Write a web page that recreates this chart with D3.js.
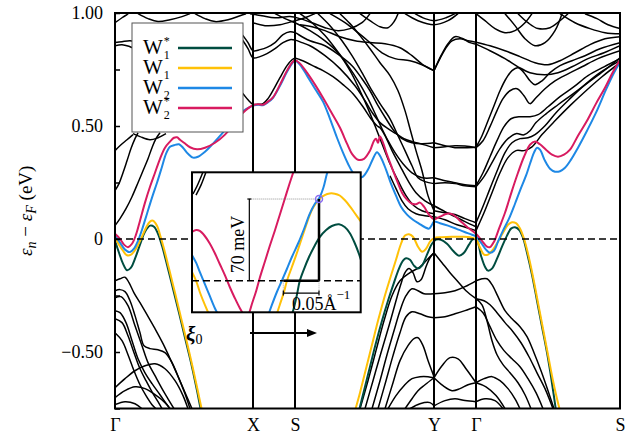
<!DOCTYPE html>
<html>
<head>
<meta charset="utf-8">
<script src="https://cdn.jsdelivr.net/npm/d3@7"></script>
<style>
  body { margin: 0; background: #fff; }
  svg text { font-family: "Liberation Serif", "DejaVu Serif", serif; fill: #000; }
</style>
</head>
<body>
<svg id="chart" width="637" height="437"></svg>
<script>
// k path: high-symmetry points (path coordinate, arb. units) and labels
var kTicks = [0, 27.6, 36, 63.8, 72.2, 101];
var kLabels = ["Γ", "X", "S", "Y", "Γ", "S"];
var eTicks = [-0.75, -0.5, -0.25, 0, 0.25, 0.5, 0.75, 1.0];

// highlighted bands, [k, E (eV)], one list per visible piece
var w1star = [
  [[0,-0.008],[0.8,-0.061],[1.6,-0.109],[2.4,-0.138],[3.2,-0.127],[4,-0.087],[5,-0.025],[6,0.032],[7,0.059],[7.8,0.054],[8.6,0.023],[9.4,-0.030],[10.4,-0.114],[11.6,-0.220],[12.8,-0.326],[14,-0.437],[15.2,-0.547],[16.2,-0.649],[17,-0.738],[17.2,-0.760]],
  [[48.8,-0.760],[49.8,-0.671],[51,-0.565],[52.2,-0.459],[53.4,-0.362],[54.6,-0.273],[55.8,-0.193],[56.8,-0.131],[57.6,-0.096],[58.2,-0.085],[59,-0.092],[59.8,-0.118],[60.6,-0.131],[61.4,-0.118],[62.4,-0.069],[63.4,-0.021],[64.2,-0.003],[65.2,-0.003],[66.4,-0.021],[67.6,-0.052],[68.8,-0.074],[69.8,-0.061],[70.8,-0.025],[71.6,-0.001],[72.4,-0.008],[73.2,-0.074],[74,-0.123],[74.6,-0.140],[75.4,-0.131],[76.4,-0.087],[77.4,-0.034],[78.4,0.015],[79.2,0.046],[80,0.052],[80.8,0.041],[81.6,0.006],[82.4,-0.061],[83.4,-0.158],[84.4,-0.273],[85.4,-0.388],[86.4,-0.503],[87.2,-0.609],[87.8,-0.698],[88.2,-0.760]]
];
var w1 = [
  [[0,0.006],[0.8,-0.025],[1.6,-0.052],[2.4,-0.072],[3.2,-0.069],[4.2,-0.043],[5.2,0.001],[6.2,0.050],[7,0.077],[7.6,0.081],[8.4,0.059],[9,0.019],[9.8,-0.043],[10.8,-0.131],[12,-0.238],[13.2,-0.348],[14.4,-0.459],[15.6,-0.574],[16.6,-0.676],[17.4,-0.760]],
  [[48,-0.760],[49,-0.680],[50.2,-0.574],[51.4,-0.468],[52.6,-0.362],[53.8,-0.264],[55,-0.176],[56.2,-0.092],[57.2,-0.021],[58,0.015],[58.8,0.021],[59.6,0.010],[60.6,-0.034],[61.4,-0.056],[62.2,-0.043],[63,-0.012],[63.8,0.004],[65.4,0.008],[67.4,0.010],[69.4,0.010],[71,0.008],[72.2,-0.001],[73,-0.038],[73.8,-0.069],[74.6,-0.069],[75.6,-0.047],[76.6,-0.012],[77.6,0.028],[78.6,0.063],[79.4,0.074],[80.2,0.070],[81,0.046],[81.8,0.001],[82.6,-0.065],[83.6,-0.167],[84.6,-0.282],[85.6,-0.397],[86.6,-0.512],[87.6,-0.627],[88.4,-0.707],[89,-0.760]]
];
var w2 = [
  [[0,0.015],[1,-0.016],[2,-0.047],[3,-0.058],[3.8,-0.043],[4.6,-0.008],[5.4,0.041],[6.4,0.112],[7.4,0.183],[8.4,0.249],[9.4,0.320],[10.2,0.377],[11,0.408],[11.8,0.415],[12.8,0.419],[13.6,0.404],[14.6,0.377],[15.6,0.360],[16.6,0.364],[18,0.386],[19.6,0.422],[21.4,0.466],[23.4,0.519],[25.2,0.559],[27.6,0.590],[28.6,0.594],[29.6,0.592],[30.6,0.605],[31.6,0.625],[33,0.678],[34.4,0.740],[35.4,0.776],[36,0.789],
   [37,0.771],[38.4,0.723],[40,0.665],[41.6,0.608],[43,0.532],[44.4,0.448],[45.6,0.382],[46.6,0.333],[47.6,0.293],[48.6,0.271],[49.6,0.276],[50.6,0.307],[51.6,0.355],[52.4,0.384],[53.2,0.360],[54.2,0.307],[55.2,0.245],[56.2,0.192],[57.2,0.143],[58.4,0.108],[59.6,0.085],[60.8,0.068],[62,0.052],[62.8,0.046],[63.4,0.063],[63.8,0.077],
   [65,0.070],[66.6,0.059],[68.2,0.046],[69.8,0.032],[71.4,0.019],[72.2,0.012],[73.2,-0.016],[74.2,-0.047],[75,-0.061],[75.8,-0.052],[76.6,-0.012],[77.6,0.037],[78.8,0.090],[80,0.156],[81,0.214],[82.2,0.280],[83,0.333],[83.8,0.382],[84.4,0.404],[85,0.395],[86,0.346],[87,0.311],[88,0.298],[89,0.300],[90,0.315],[91.2,0.351],[92.6,0.404],[94.4,0.479],[96.2,0.559],[98.2,0.661],[99.8,0.736],[101,0.782]]
];
var w2star = [
  [[0,0.023],[1,0.001],[1.8,-0.025],[2.6,-0.036],[3.4,-0.021],[4.2,0.019],[5,0.081],[6,0.161],[7,0.231],[8,0.293],[9,0.355],[10,0.404],[11,0.431],[11.8,0.448],[12.4,0.450],[13,0.439],[13.8,0.426],[15,0.406],[16.4,0.397],[18,0.404],[20,0.426],[22,0.462],[24,0.515],[25.6,0.559],[27.6,0.592],[28.6,0.596],[29.6,0.594],[30.6,0.608],[31.6,0.627],[33,0.683],[34.4,0.745],[35.4,0.780],[36,0.791],
   [37,0.776],[38.4,0.736],[40,0.683],[41.6,0.625],[43.2,0.563],[45,0.492],[46.4,0.422],[47.4,0.377],[48.6,0.351],[49.8,0.355],[51,0.391],[51.8,0.435],[52.2,0.444],[52.6,0.426],[53,0.453],[53.6,0.426],[54.4,0.373],[55.4,0.315],[56.4,0.258],[57.4,0.205],[58.4,0.174],[59.4,0.156],[60.2,0.154],[61,0.161],[61.8,0.143],[62.8,0.108],[63.8,0.088],
   [65,0.099],[66.4,0.112],[67.6,0.108],[69,0.081],[70.6,0.050],[72.2,0.023],[73.4,-0.008],[74.4,-0.034],[75,-0.036],[75.8,-0.012],[76.8,0.046],[78,0.116],[79.4,0.214],[80.6,0.293],[81.8,0.364],[83,0.417],[84,0.431],[85,0.419],[86.2,0.395],[87.4,0.373],[88.6,0.364],[89.8,0.373],[91,0.395],[92.6,0.457],[94.4,0.523],[96.2,0.599],[98,0.669],[99.4,0.731],[100.4,0.771],[101,0.791]]
];

// remaining bands (black)
var blackBands = [
  // upper part, Gamma - X - S
  [[0,0.869],[1.4,0.873],[3,0.877],[5,0.869]],
  [[0,0.855],[1.4,0.860],[3,0.851],[5,0.833]],
  [[0,0.957],[1.4,0.979],[2.6,0.997],[3,1.010]],
  [[4.6,0.997],[6.6,0.975],[8.6,0.962],[11,0.970],[13.4,0.984],[15,0.997]],
  [[16,0.997],[18,0.975],[20,0.962],[22.6,0.970],[25,0.988],[26.2,0.997]],
  [[0,0.059],[1,0.090],[2.2,0.134],[3.4,0.187],[4.6,0.249],[5.6,0.302],[6.6,0.355],[7.4,0.404],[8.2,0.444],[9,0.470]],
  [[0,0.214],[0.8,0.245],[1.6,0.293],[2.4,0.346],[3.2,0.400],[4,0.444],[4.6,0.470]],
  [[0,0.391],[1.2,0.417],[2.4,0.439],[3.6,0.462]],
  [[3.6,0.466],[5,0.453],[7,0.439],[8.6,0.448],[10.2,0.466]],
  [[24,0.944],[25.6,0.900],[26.6,0.869],[27.6,0.833],[29,0.838],[30.4,0.848],[32,0.869],[33.6,0.904],[35,0.917],[36,0.913],[37.4,0.895],[39,0.877],[42,0.855],[45,0.811],[47.4,0.767],[49.4,0.709],[51,0.656],[52.6,0.590],[54.2,0.532],[55.8,0.479],[57.4,0.444],[59.4,0.426],[61.4,0.422],[63.8,0.426]],
  [[24,0.922],[25.6,0.877],[26.6,0.842],[27.6,0.802],[29,0.807],[30.4,0.820],[32,0.842],[33.6,0.869],[35,0.882],[36,0.880],[37.4,0.869],[39,0.855],[42,0.811],[45,0.754],[48,0.678],[50,0.612],[51.6,0.554],[53,0.515],[54.6,0.488],[56.2,0.466],[57.8,0.444],[59.4,0.431],[61,0.422],[63.8,0.404]],
  [[23,0.700],[24.4,0.674],[25.6,0.643],[26.6,0.616],[27.6,0.596],[28.6,0.596],[29.6,0.599],[30.6,0.621],[31.8,0.665],[33,0.714],[34.4,0.767],[35.4,0.793],[36,0.800],[37,0.793],[38.4,0.780],[40,0.762],[41.6,0.745],[43.6,0.718],[45.6,0.683],[47.6,0.643],[49.6,0.585],[51.2,0.532],[52.4,0.501],[53,0.492],[54,0.457],[55.4,0.391],[57,0.324],[58.6,0.258],[60.2,0.205],[62,0.169],[63.8,0.147]],
  [[27.6,0.957],[30,0.944],[33,0.948],[36,0.966],[38,0.979],[40,0.997]],
  [[27,0.997],[29.4,0.988],[32,0.979],[35,0.984],[37,0.975],[39.4,0.957],[42,0.935],[44.6,0.922],[47,0.931],[49.4,0.957],[51,0.997]],
  // S - Y
  [[37,0.997],[39.4,0.957],[42,0.900],[44.4,0.833],[46.6,0.767],[48.6,0.700],[50.6,0.621],[52.2,0.546],[53.4,0.488],[54.6,0.435],[56,0.382],[57.6,0.333],[59.4,0.293],[61.4,0.271],[63.8,0.271]],
  [[40.6,0.997],[43,0.944],[45.4,0.877],[47.4,0.811],[49.4,0.736],[51.4,0.656],[53,0.599],[55,0.532],[56.6,0.457],[58,0.391],[59.4,0.324],[60.6,0.271],[62,0.254],[63.8,0.245]],
  [[45,0.997],[47,0.953],[49,0.900],[51,0.842],[53,0.780],[55,0.723],[56.6,0.656],[58,0.568],[59,0.488],[60.2,0.391],[61.4,0.302],[62.6,0.192],[63.8,0.125]],
  [[32,0.997],[34,0.975],[36,0.957],[39,0.922],[42,0.877],[44.6,0.824],[47,0.745],[49,0.656],[50.6,0.577],[52,0.501],[53.4,0.422],[55,0.333],[56.6,0.258],[58.2,0.192],[59.8,0.147],[61.4,0.125],[63.8,0.112]],
  [[37,0.948],[39.4,0.939],[42,0.922],[45,0.895],[48,0.877],[51,0.869],[54,0.864],[57,0.846],[59.4,0.811],[61.6,0.771],[63.8,0.745]],
  [[43,0.997],[46,0.957],[48.6,0.913],[51,0.869],[53.4,0.824],[56,0.798],[59,0.789],[61.4,0.771],[63.8,0.745]],
  [[49,0.997],[51,0.966],[53,0.939],[54.6,0.935],[55.8,0.961],[56.6,0.997]],
  [[58,0.997],[60.6,0.966],[63.8,0.948],[66.6,0.966],[68.6,0.997]],
  [[60,0.997],[62,0.975],[63.8,0.966],[66.2,0.979],[68,0.997]],
  [[55,0.280],[56.2,0.223],[57.4,0.169],[58.6,0.134],[60.2,0.112],[62,0.103],[63.8,0.099]],
  // Y - Gamma
  [[63.8,0.745],[65,0.798],[66.2,0.846],[67.4,0.877],[69,0.886],[70.6,0.877],[72.2,0.871]],
  [[63.8,0.745],[65.2,0.811],[66.6,0.864],[68,0.895],[69.6,0.886],[71,0.869],[72.2,0.862]],
  [[63.8,0.426],[66,0.413],[68,0.404],[70,0.404],[72.2,0.406]],
  [[63.8,0.404],[66,0.408],[68,0.413],[70,0.411],[72.2,0.404]],
  [[63.8,0.271],[66,0.258],[68,0.249],[70,0.240],[72.2,0.236]],
  [[63.8,0.245],[66,0.249],[68,0.245],[70,0.236],[72.2,0.231]],
  [[63.8,0.147],[66,0.121],[68,0.099],[70,0.077],[72.2,0.054]],
  [[63.8,0.125],[66,0.116],[68,0.108],[70,0.090],[72.2,0.072]],
  [[63.8,0.099],[66,0.085],[68.4,0.063],[70.4,0.050],[72.2,0.037]],
  // Gamma - S
  [[72.2,0.871],[75,0.855],[78,0.833],[81,0.807],[84,0.780],[86.6,0.771],[89,0.789],[92,0.824],[95,0.860],[98,0.886],[101,0.895]],
  [[72.2,0.862],[75,0.833],[78,0.798],[80.6,0.762],[83,0.736],[86,0.727],[88.6,0.736],[91.4,0.762],[94.6,0.798],[97.8,0.824],[101,0.855]],
  [[72.2,0.406],[73.4,0.457],[74.6,0.523],[75.8,0.590],[77,0.656],[78.2,0.709],[79.4,0.745],[80.6,0.758],[81.8,0.736],[83,0.700],[84,0.683],[85.4,0.700],[87,0.736],[89,0.767],[91.4,0.789],[94,0.811],[97,0.842],[101,0.869]],
  [[72.2,0.404],[73.6,0.435],[75,0.497],[76.4,0.568],[77.6,0.621],[79,0.656],[80.4,0.665],[81.8,0.634],[83,0.599],[84.2,0.625],[86,0.665],[88,0.700],[90.6,0.731],[93.4,0.762],[96.6,0.798],[101,0.833]],
  [[72.2,0.236],[73.6,0.293],[75,0.364],[76.4,0.435],[77.8,0.497],[79.2,0.532],[81,0.541],[83,0.541],[84.6,0.550],[86.6,0.585],[89,0.630],[91.8,0.674],[94.6,0.723],[97.8,0.762],[101,0.798]],
  [[72.2,0.231],[73.8,0.276],[75.4,0.338],[77,0.400],[78.6,0.444],[80.2,0.466],[81.8,0.461],[83,0.479],[84.2,0.515],[86.2,0.554],[88.6,0.594],[91.4,0.639],[94.6,0.692],[97.8,0.745],[101,0.802]],
  [[72.2,0.072],[73.4,0.134],[75,0.223],[76.6,0.311],[78,0.382],[79.4,0.426],[81,0.444],[82.6,0.448],[84,0.462],[86,0.501],[88.2,0.559],[91,0.621],[94,0.683],[97,0.736],[101,0.789]],
  [[72.2,0.037],[73.8,0.116],[75.4,0.205],[77,0.293],[78.6,0.360],[80.2,0.391],[81.8,0.391],[83.4,0.408],[85.4,0.462],[88,0.523],[91,0.590],[94.2,0.656],[97.4,0.718],[101,0.780]],
  [[78,0.997],[80,0.944],[82,0.886],[84,0.855],[86,0.869],[88,0.922],[89.4,0.997]],
  [[80.6,0.997],[82.6,0.957],[84.6,0.931],[87,0.935],[89,0.966],[90.6,0.997]],
  [[89,0.997],[92,0.957],[95,0.931],[98,0.913],[101,0.908]],
  [[94,0.997],[96.4,0.975],[98.6,0.948],[101,0.931]],
  [[72.2,0.997],[74,0.966],[76,0.931],[78,0.913],[80,0.922],[82,0.957],[83.4,0.997]],
  // lower bands, Gamma - X
  [[0,-0.185],[1,-0.176],[2,-0.169],[2.8,-0.193],[3.8,-0.238],[5,-0.282],[6.4,-0.335],[8,-0.397],[9.6,-0.463],[11.2,-0.538],[12.8,-0.618],[14.2,-0.689],[15.4,-0.751]],
  [[0,-0.229],[1,-0.224],[2,-0.233],[3,-0.273],[4,-0.339],[5,-0.415],[5.8,-0.472],[7,-0.485],[8.6,-0.490],[10,-0.503],[11.4,-0.547],[12.8,-0.618],[14,-0.685],[15,-0.751]],
  [[0,-0.260],[1.2,-0.255],[2.6,-0.295],[4,-0.384],[5.4,-0.472],[6.6,-0.547],[8,-0.605],[9.4,-0.662],[10.6,-0.707],[11.8,-0.751]],
  [[0,-0.317],[1,-0.326],[2.2,-0.370],[3.4,-0.450],[4.6,-0.530],[6,-0.592],[7.4,-0.640],[9,-0.689],[10.4,-0.733],[11,-0.751]],
  [[0,-0.353],[1.4,-0.370],[2.6,-0.428],[3.8,-0.503],[5,-0.574],[6.2,-0.627],[7.4,-0.676],[8.6,-0.720],[9.4,-0.751]],
  [[0,-0.415],[1.4,-0.450],[2.6,-0.512],[3.8,-0.583],[5,-0.645],[6.2,-0.693],[7.4,-0.733],[8.2,-0.751]],
  [[0,-0.658],[2,-0.618],[4,-0.583],[6,-0.561],[8,-0.552],[10,-0.574],[12,-0.627],[13.6,-0.693],[14.6,-0.751]],
  [[0,-0.702],[2,-0.671],[4,-0.654],[6,-0.662],[8,-0.689],[10,-0.724],[11,-0.751]],
  [[0,-0.733],[2,-0.720],[4,-0.729],[5.4,-0.751]],
  // lower bands, S - Y
  [[50,-0.751],[51.6,-0.627],[53.2,-0.503],[54.8,-0.384],[56.2,-0.273],[57.2,-0.198],[58,-0.149],[58.8,-0.131],[59.6,-0.149],[60.4,-0.189],[61.2,-0.180],[62.2,-0.123],[63,-0.083],[63.8,-0.061]],
  [[49,-0.751],[50.6,-0.627],[52.2,-0.494],[53.8,-0.362],[55.4,-0.251],[57,-0.185],[59,-0.149],[61,-0.123],[62.6,-0.087],[63.8,-0.061]],
  [[51.4,-0.751],[53,-0.627],[54.4,-0.512],[55.8,-0.406],[57,-0.317],[58.2,-0.251],[59.4,-0.220],[60.6,-0.229],[61.8,-0.242],[63.8,-0.242]],
  [[52.6,-0.751],[54.2,-0.627],[55.6,-0.516],[57,-0.415],[58.2,-0.344],[59.4,-0.322],[61,-0.331],[62.6,-0.344],[63.8,-0.348]],
  [[54,-0.751],[55.6,-0.636],[57,-0.538],[58.6,-0.472],[59.8,-0.441],[60.6,-0.437],[61.6,-0.472],[62.6,-0.538],[63.8,-0.609]],
  [[54.6,-0.751],[56.2,-0.693],[57.8,-0.649],[59.4,-0.618],[61,-0.609],[62.6,-0.609],[63.8,-0.614]],
  [[58,-0.751],[59.4,-0.707],[60.6,-0.671],[62,-0.645],[63.8,-0.614]],
  [[59,-0.751],[61,-0.729],[63,-0.724],[63.8,-0.738]],
  // lower bands, Y - Gamma
  [[63.8,-0.061],[65.4,-0.105],[67,-0.149],[68.6,-0.189],[70.2,-0.229],[72.2,-0.264]],
  [[63.8,-0.242],[66,-0.238],[68,-0.229],[70,-0.211],[72.2,-0.185]],
  [[63.8,-0.348],[66,-0.344],[68,-0.331],[70,-0.317],[72.2,-0.300]],
  [[63.8,-0.614],[65.4,-0.561],[67,-0.525],[68.6,-0.530],[70.2,-0.574],[72.2,-0.636]],
  [[63.8,-0.614],[65.6,-0.649],[67.4,-0.671],[69,-0.662],[70.6,-0.645],[72.2,-0.636]],
  [[63.8,-0.738],[66,-0.715],[68,-0.707],[70,-0.715],[72.2,-0.720]],
  // lower bands, Gamma - S
  [[72.2,-0.264],[73.8,-0.273],[75,-0.291],[76.4,-0.326],[78,-0.370],[79.6,-0.410],[81.2,-0.459],[82.8,-0.521],[84.4,-0.592],[86,-0.662],[87.6,-0.751]],
  [[72.2,-0.185],[73.4,-0.176],[74.4,-0.176],[75.4,-0.202],[76.6,-0.255],[78,-0.317],[79.4,-0.353],[81,-0.388],[82.4,-0.432],[83.8,-0.503],[85.2,-0.583],[86.6,-0.671],[87.8,-0.751]],
  [[72.2,-0.300],[73.6,-0.326],[75,-0.388],[76.4,-0.450],[77.8,-0.494],[79.4,-0.530],[81,-0.565],[82.6,-0.618],[84.2,-0.680],[85.6,-0.751]],
  [[72.2,-0.264],[73.4,-0.291],[74.4,-0.362],[75.4,-0.450],[76.4,-0.512],[77.6,-0.556],[79,-0.592],[80.6,-0.636],[82,-0.689],[83.2,-0.751]],
  [[72.2,-0.636],[73.8,-0.618],[75.4,-0.609],[77,-0.627],[78.6,-0.662],[80,-0.707],[81,-0.751]],
  [[72.2,-0.720],[74,-0.707],[76,-0.715],[77.6,-0.751]],
  [[72.2,-0.636],[74.2,-0.654],[76.2,-0.693],[78,-0.751]]
];

// inset: k relative to the marked crossing (1/Angstrom), E relative to E_F (meV)
var insetW2star = [[[-0.178,41.7],[-0.172,43.4],[-0.167,42.6],[-0.160,38.3],[-0.153,31.9],[-0.146,23.7],[-0.139,14.3],[-0.132,4.9],[-0.125,-5.4],[-0.118,-14.8],[-0.111,-23.4],[-0.105,-29.5],[-0.102,-31.5],[-0.098,-27.7],[-0.094,-20],[-0.088,-8.8],[-0.083,2.3],[-0.076,16.0],[-0.069,29.7],[-0.062,42.6],[-0.055,56.3],[-0.048,70.0],[-0.041,83.7],[-0.034,96.6]]];
var insetW2 = [
  [[-0.178,22.0],[-0.172,15.2],[-0.167,7.5],[-0.160,-2.8],[-0.153,-13.1],[-0.146,-23.4],[-0.141,-29.4]],
  [[-0.071,-29.4],[-0.066,-20.8],[-0.059,-9.7],[-0.052,0],[-0.045,10.0],[-0.038,20.3],[-0.029,32.3],[-0.021,44.3],[-0.013,57.2],[-0.006,65.7],[0,70.4],[0.006,79.4],[0.011,91.4],[0.014,96.6]]
];
var insetW1 = [
  [[-0.178,7.5],[-0.172,-0.3],[-0.167,-9.7],[-0.161,-19.1],[-0.155,-27.7]],
  [[-0.060,-30.2],[-0.055,-20.8],[-0.049,-9.7],[-0.045,-0.3],[-0.038,11.7],[-0.031,23.7],[-0.024,36.6],[-0.017,49.4],[-0.010,60.6],[-0.004,66.6],[0.001,70.4],[0.008,73.4],[0.015,74.8],[0.022,74.6],[0.029,73.0],[0.036,69.1],[0.043,64.0],[0.050,58.0],[0.059,50.3]]
];
var insetW1star = [[[-0.041,-33.7],[-0.036,-25.1],[-0.031,-12.3],[-0.027,-0.3],[-0.021,10.0],[-0.014,20.3],[-0.007,28.9],[0.001,37.4],[0.010,43.4],[0.018,46.9],[0.028,48.3],[0.036,46.0],[0.043,40.9],[0.050,32.3],[0.056,22.9],[0.060,15.2]]];
var insetBlack = [
  [[-0.1765,74.3],[-0.1695,82.9],[-0.1625,93.1]],
  [[-0.1723,73.4],[-0.1653,81.9],[-0.1583,93.1]]
];
var barE = 70, barK = 0.05;

var seriesNames = ["W1*", "W1", "W2", "W2*"];
var seriesColors = ["#004d40", "#ffc107", "#1e88e5", "#d81b60"];

// set the dimensions and margins of the graph
var margin = {top: 13, right: 17, bottom: 28.5, left: 115},
    width = 505,
    height = 395.5;

var svg = d3.select("#chart");
var g = svg.append("g")
    .attr("transform", "translate(" + margin.left + "," + margin.top + ")");

var x = d3.scaleLinear().domain([0, 101]).range([0, width]);
var y = d3.scaleLinear().domain([-0.75, 1.0]).range([height, 0]);

var defs = svg.append("defs");
defs.append("clipPath").attr("id", "plotclip")
  .append("rect").attr("width", width).attr("height", height);

var line = d3.line()
    .x(function(d) { return x(d[0]); })
    .y(function(d) { return y(d[1]); })
    .curve(d3.curveCatmullRom.alpha(0.5));

var plot = g.append("g").attr("clip-path", "url(#plotclip)");

plot.selectAll(".band")
    .data(blackBands)
  .enter().append("path")
    .attr("class", "band")
    .attr("d", line)
    .attr("fill", "none")
    .attr("stroke", "#000")
    .attr("stroke-width", 1.5);

[w1star, w1, w2, w2star].forEach(function(segs, i) {
  segs.forEach(function(seg) {
    plot.append("path")
      .datum(seg)
      .attr("d", line)
      .attr("fill", "none")
      .attr("stroke", seriesColors[i])
      .attr("stroke-width", 2);
  });
});

// Fermi level
plot.append("line")
    .attr("x1", 0).attr("x2", width)
    .attr("y1", y(0)).attr("y2", y(0))
    .attr("stroke", "#000")
    .attr("stroke-width", 1.5)
    .attr("stroke-dasharray", "7,4");

// high-symmetry lines
g.selectAll(".hsym")
    .data(kTicks.slice(1, 5))
  .enter().append("line")
    .attr("class", "hsym")
    .attr("x1", function(d) { return x(d); })
    .attr("x2", function(d) { return x(d); })
    .attr("y1", 0).attr("y2", height)
    .attr("stroke", "#000")
    .attr("stroke-width", 2);

g.append("rect")
    .attr("width", width).attr("height", height)
    .attr("fill", "none")
    .attr("stroke", "#000")
    .attr("stroke-width", 2);

// axes
var yAxis = d3.axisLeft(y)
    .tickValues(eTicks)
    .tickSize(-5)
    .tickPadding(12)
    .tickFormat(function(d) {
      if (d === 1) return "1.00";
      if (d === 0.5) return "0.50";
      if (d === 0) return "0";
      if (d === -0.5) return "\u22120.50";
      return "";
    });
var ya = g.append("g").call(yAxis);
ya.select(".domain").remove();
ya.selectAll(".tick line").attr("stroke", "#000").attr("stroke-width", 1.5);
ya.selectAll("text").style("font-size", "18px").style("font-family", "Liberation Serif, serif");

var xAxis = d3.axisBottom(x)
    .tickValues(kTicks)
    .tickSize(0)
    .tickPadding(10)
    .tickFormat(function(d, i) { return kLabels[i]; });
var xa = g.append("g").attr("transform", "translate(0," + height + ")").call(xAxis);
xa.select(".domain").remove();
xa.selectAll("text").style("font-size", "18px").style("font-family", "Liberation Serif, serif");

// text label for the y axis
var ylab = svg.append("text")
    .attr("transform", "translate(32," + (margin.top + height / 2) + ") rotate(-90)")
    .attr("text-anchor", "middle")
    .style("font-size", "19px");
ylab.append("tspan").text("ε").style("font-style", "italic");
ylab.append("tspan").text("n").attr("dy", 4).style("font-size", "14px").style("font-style", "italic");
ylab.append("tspan").text(" \u2212 ").attr("dy", -4);
ylab.append("tspan").text("ε").style("font-style", "italic");
ylab.append("tspan").text("F").attr("dy", 4).style("font-size", "14px").style("font-style", "italic");
ylab.append("tspan").text(" (eV)").attr("dy", -4);

// legend
var legend = svg.append("g").attr("transform", "translate(132,23)");
legend.append("rect")
    .attr("width", 111).attr("height", 109)
    .attr("fill", "#fff")
    .attr("stroke", "#555")
    .attr("stroke-width", 1);
seriesNames.forEach(function(name, i) {
  var cy = 25 + i * 20;
  var t = legend.append("text").attr("x", 11).attr("y", cy + 6).style("font-size", "21px").text("W");
  var wlen = t.node().getComputedTextLength();
  legend.append("text").attr("x", 12 + wlen).attr("y", cy + 11).style("font-size", "12px").text(name.charAt(1));
  if (name.indexOf("*") > 0) {
    legend.append("text").attr("x", 12 + wlen).attr("y", cy - 3).style("font-size", "12px").text("*");
  }
  legend.append("line")
    .attr("x1", 46).attr("x2", 100)
    .attr("y1", cy).attr("y2", cy)
    .attr("stroke", seriesColors[i])
    .attr("stroke-width", 2.5);
});

// inset
var ix = d3.scaleLinear().domain([-0.1779, 0.0584]).range([192, 360.7]);
var iy = d3.scaleLinear().domain([-27.1, 92.9]).range([312.3, 172.3]);
var iline = d3.line()
    .x(function(d) { return ix(d[0]); })
    .y(function(d) { return iy(d[1]); })
    .curve(d3.curveCatmullRom.alpha(0.5));

defs.append("clipPath").attr("id", "insetclip")
  .append("rect").attr("x", 192).attr("y", 172.3).attr("width", 168.7).attr("height", 140);

svg.append("rect")
    .attr("x", 192).attr("y", 172.3).attr("width", 168.7).attr("height", 140)
    .attr("fill", "#fff");

var inset = svg.append("g").attr("clip-path", "url(#insetclip)");
insetBlack.forEach(function(seg) {
  inset.append("path").datum(seg).attr("d", iline)
    .attr("fill", "none").attr("stroke", "#000").attr("stroke-width", 1.5);
});
[insetW1star, insetW1, insetW2, insetW2star].forEach(function(segs, i) {
  segs.forEach(function(seg) {
    inset.append("path").datum(seg).attr("d", iline)
      .attr("fill", "none").attr("stroke", seriesColors[i]).attr("stroke-width", 2);
  });
});
inset.append("line")
    .attr("x1", 192).attr("x2", 360.7)
    .attr("y1", iy(0)).attr("y2", iy(0))
    .attr("stroke", "#000").attr("stroke-width", 1.5)
    .attr("stroke-dasharray", "7,4");

// scale bars in the inset
var kBarX = -0.0976;
svg.append("line")
    .attr("x1", ix(kBarX)).attr("x2", ix(0))
    .attr("y1", iy(barE)).attr("y2", iy(barE))
    .attr("stroke", "#777").attr("stroke-width", 0.8).attr("stroke-dasharray", "1,1");
svg.append("line")
    .attr("x1", ix(kBarX)).attr("x2", ix(kBarX))
    .attr("y1", iy(0)).attr("y2", iy(barE))
    .attr("stroke", "#000").attr("stroke-width", 1.2);
svg.append("line")
    .attr("x1", ix(kBarX) - 2).attr("x2", ix(kBarX) + 2)
    .attr("y1", iy(barE)).attr("y2", iy(barE))
    .attr("stroke", "#000").attr("stroke-width", 1.2);
svg.append("line")
    .attr("x1", ix(0)).attr("x2", ix(0))
    .attr("y1", iy(0)).attr("y2", iy(barE))
    .attr("stroke", "#000").attr("stroke-width", 2.5);
svg.append("line")
    .attr("x1", ix(-barK)).attr("x2", ix(0))
    .attr("y1", iy(0)).attr("y2", iy(0))
    .attr("stroke", "#000").attr("stroke-width", 2.5);
[-barK, 0].forEach(function(k) {
  svg.append("line")
    .attr("x1", ix(k)).attr("x2", ix(k))
    .attr("y1", iy(0)).attr("y2", iy(-11.4))
    .attr("stroke", "#999").attr("stroke-width", 0.8).attr("stroke-dasharray", "1,1");
  svg.append("line")
    .attr("x1", ix(k)).attr("x2", ix(k))
    .attr("y1", iy(-8.5)).attr("y2", iy(-12.7))
    .attr("stroke", "#000").attr("stroke-width", 1.2);
});
svg.append("line")
    .attr("x1", ix(-barK)).attr("x2", ix(0))
    .attr("y1", iy(-10.6)).attr("y2", iy(-10.6))
    .attr("stroke", "#000").attr("stroke-width", 1.2);

svg.append("circle")
    .attr("cx", ix(0)).attr("cy", iy(barE))
    .attr("r", 3.5)
    .attr("fill", "none")
    .attr("stroke", "#8a6cf0")
    .attr("stroke-width", 1.5);

svg.append("text")
    .attr("transform", "translate(" + (ix(kBarX) - 5) + "," + iy(barE / 2 - 4) + ") rotate(-90)")
    .attr("text-anchor", "middle")
    .style("font-size", "18px")
    .text("70 meV");

var kl = svg.append("text")
    .attr("x", 292).attr("y", 310)
    .style("font-size", "18px");
kl.append("tspan").text("0.05Å");
kl.append("tspan").text("\u22121").attr("dy", -11).style("font-size", "13px");

svg.append("rect")
    .attr("x", 192).attr("y", 172.3).attr("width", 168.7).attr("height", 140)
    .attr("fill", "none")
    .attr("stroke", "#000")
    .attr("stroke-width", 2);

// xi_0 label and arrow
var xi = svg.append("text").attr("x", 186).attr("y", 341).style("font-size", "21px");
xi.append("tspan").text("ξ").style("font-weight", "bold").style("font-style", "italic");
xi.append("tspan").text("0").attr("dy", 3).style("font-size", "14px");

svg.append("line")
    .attr("x1", 250).attr("x2", 309)
    .attr("y1", 333).attr("y2", 333)
    .attr("stroke", "#000").attr("stroke-width", 2);
svg.append("path")
    .attr("d", "M307,329 L317,333 L307,337 Z")
    .attr("fill", "#000");
</script>
</body>
</html>
